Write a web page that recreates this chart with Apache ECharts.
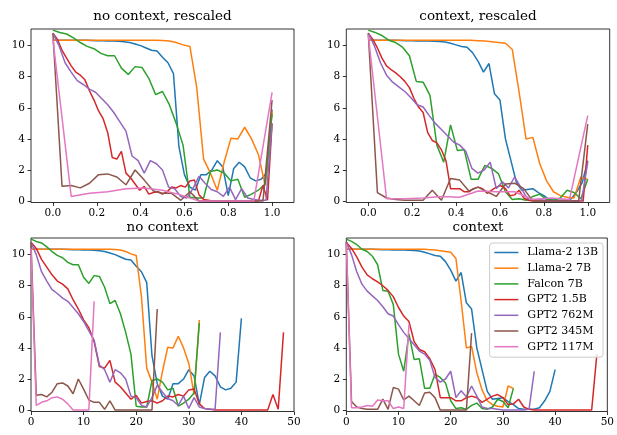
<!DOCTYPE html>
<html>
<head>
<meta charset="utf-8">
<script src="https://cdn.jsdelivr.net/npm/echarts@6/dist/echarts.min.js"></script>
<style>
html,body{margin:0;padding:0;background:#fff;}
#chart{width:617px;height:435px;}
</style>
</head>
<body>
<div id="chart"></div>
<script>
// ---- Data ----
const seriesNames = ['Llama-2 13B','Llama-2 7B','Falcon 7B','GPT2 1.5B','GPT2 762M','GPT2 345M','GPT2 117M'];
const panelTitles = ['no context, rescaled','context, rescaled','no context','context'];
const topXTicks = [0.0,0.2,0.4,0.6,0.8,1.0];
const bottomXTicks = [0,10,20,30,40,50];
const yTicks = [0,2,4,6,8,10];

// "no context" runs (index = step)
const noCtxLlama13B = [10.35,10.35,10.35,10.35,10.35,10.35,10.34,10.33,10.32,10.31,10.30,10.30,10.28,10.25,10.20,10.10,10.00,9.85,9.70,9.65,9.25,8.9,8.2,3.5,1.7,0.9,0.7,1.7,1.7,2.0,2.6,2.2,0.35,2.1,2.5,2.2,1.5,1.3,1.4,1.8,5.9];
const noCtxLlama7B = [10.35,10.35,10.35,10.35,10.35,10.35,10.35,10.35,10.35,10.35,10.35,10.35,10.35,10.35,10.35,10.34,10.33,10.3,10.2,10.05,9.95,7.3,2.7,1.8,0.7,2.5,4.05,4.0,4.75,4.0,3.0,1.0,5.8];
const noCtxFalcon7B = [11.0,10.85,10.75,10.5,10.2,9.95,9.8,9.5,9.35,9.35,8.55,8.15,8.65,8.6,7.9,6.85,7.05,6.2,5.0,3.6,0.25,0.2,0.2,1.9,2.0,1.8,1.3,1.4,0.25,0.45,0.7,1.1,5.6];
const noCtxGPT2_1_5B = [10.8,10.4,9.7,9.2,8.7,8.3,8.1,7.8,7.1,6.5,5.8,5.3,4.4,2.8,2.7,3.2,1.8,1.5,1.1,0.7,0.95,0.45,0.55,0.6,0.45,0.6,0.9,0.85,1.0,0.9,1.3,1.35,0.4,0.1,0.05,0,0,0,0,0,0,0,0,0,0,0,1.0,0.05,5.0];
const noCtxGPT2_762M = [10.8,10.0,8.9,8.3,7.75,7.5,7.2,7.0,6.6,6.2,5.7,5.1,4.5,2.9,2.6,1.8,2.6,2.4,2.0,0.9,0.8,0.3,0.2,0.8,1.6,1.15,0.75,0.6,0.3,0.9,0.1,0.8,0.2,0.1,0.05,0.05,5.0];
const noCtxGPT2_345M = [10.8,0.95,1.0,0.85,1.15,1.7,1.75,1.55,1.05,2.0,1.35,0.65,0.5,0.5,0.05,0.6,0,0,0,0,0,0,0,0,6.5];
const noCtxGPT2_117M = [10.4,0.3,0.5,0.6,0.8,0.85,0.7,0.4,0,0,0,0,7.0];

// "context" runs (index = step)
const ctxLlama13B = [10.35,10.35,10.35,10.35,10.35,10.34,10.33,10.32,10.31,10.30,10.30,10.30,10.28,10.26,10.24,10.15,10.05,9.95,9.9,9.55,9.0,8.3,8.85,6.9,6.5,4.0,2.6,1.2,0.7,0.75,0.8,0.55,0.35,0.1,0.05,0.05,0.05,0.15,0.6,1.2,2.6];
const ctxLlama7B = [10.35,10.35,10.35,10.35,10.35,10.35,10.35,10.35,10.35,10.35,10.35,10.35,10.35,10.35,10.35,10.34,10.32,10.3,10.25,10.2,10.15,9.75,7.0,4.0,4.1,2.4,1.3,0.6,0.35,0.25,0.2,1.55,1.4];
const ctxFalcon7B = [11.0,10.85,10.65,10.35,10.2,9.9,9.35,7.7,7.65,6.8,3.6,2.5,4.9,3.25,3.3,1.4,1.4,2.3,2.1,1.75,0.6,0.1,0.15,0.05,0.3,0.45,0.1,0.05,0.2,0.7,0.55,0.15,1.4];
const ctxGPT2_1_5B = [10.8,10.4,9.85,9.2,8.7,8.45,8.25,8.0,7.7,7.3,6.6,6.05,5.7,4.4,3.9,3.75,3.3,2.6,0.8,0.8,0.8,0.6,0.6,0.8,0.9,0.8,0.5,0.7,0.9,1.0,0.8,0.35,0.4,0.7,0.2,0.05,0,0,0,0,0,0,0,0,0,0,0,0,3.6];
const ctxGPT2_762M = [10.8,10.0,8.9,8.1,7.65,7.35,7.05,6.65,6.2,6.05,5.5,5.0,4.6,4.2,3.8,3.6,3.2,2.1,1.8,2.0,2.5,0.8,1.25,0.85,1.55,0.9,0.2,0.1,0.1,0.05,0,0,0,0,0,0.05,2.5];
const ctxGPT2_345M = [10.8,0.55,0.2,0.1,0.05,0.05,0.05,0.7,0.05,1.45,1.35,0.65,0.9,0.6,0.3,1.1,1.15,0.8,0,0,0,0,0,0,4.95];
const ctxGPT2_117M = [10.7,0.15,0.15,0.2,0.3,0.25,0.65,0.6,0.6,0.1,0.2,0.1,5.5];

const noCtxRuns = [noCtxLlama13B,noCtxLlama7B,noCtxFalcon7B,noCtxGPT2_1_5B,noCtxGPT2_762M,noCtxGPT2_345M,noCtxGPT2_117M];
const ctxRuns = [ctxLlama13B,ctxLlama7B,ctxFalcon7B,ctxGPT2_1_5B,ctxGPT2_762M,ctxGPT2_345M,ctxGPT2_117M];

// ---- Chart ----
const colors = ['#1f77b4','#ff7f0e','#2ca02c','#d62728','#9467bd','#8c564b','#e377c2'];
const FONT = 'DejaVu Serif';
const grids = [
  {left:31, top:29, width:263, height:173.5},
  {left:346.3, top:29, width:263.4, height:173.5},
  {left:31, top:238, width:263, height:173.5},
  {left:346.3, top:238, width:263.4, height:173.5}
];
const gridOpts = grids.map(g => Object.assign({show:true, borderColor:'#000', borderWidth:0.8, backgroundColor:'transparent'}, g));

function xAxisFor(i){
  const top = i < 2;
  return {
    type:'value', gridIndex:i,
    min: top ? -0.1 : 0, max: top ? 1.1 : 50,
    axisLine:{show:false, onZero:false},
    splitLine:{show:false},
    axisTick:{show:true, length:3.5, lineStyle:{color:'#000', width:0.8}, customValues: top ? topXTicks : bottomXTicks},
    axisLabel:{show:true, margin:5, color:'#000', fontFamily:FONT, fontSize:10.5,
      customValues: top ? topXTicks : bottomXTicks,
      formatter: v => top ? v.toFixed(1) : String(Math.round(v))}
  };
}
function yAxisFor(i){
  return {
    type:'value', gridIndex:i, min:-0.09, max:11.07,
    axisLine:{show:false, onZero:false},
    splitLine:{show:false},
    axisTick:{show:true, length:3.5, lineStyle:{color:'#000', width:0.8}, customValues:yTicks},
    axisLabel:{show:true, margin:6, color:'#000', fontFamily:FONT, fontSize:10.5, customValues:yTicks,
      formatter: v => String(Math.round(v))}
  };
}

const series = [];
for (let p = 0; p < 4; p++) {
  const runs = (p % 2 === 0) ? noCtxRuns : ctxRuns;
  const rescale = p < 2;
  runs.forEach((arr, s) => {
    const n = arr.length;
    series.push({
      type:'line', name:seriesNames[s], xAxisIndex:p, yAxisIndex:p,
      data: arr.map((v, i) => [rescale ? i / (n - 1) : i, v]),
      symbol:'none', showSymbol:false, color:colors[s],
      lineStyle:{width:1.5, color:colors[s]},
      animation:false, silent:true, clip:true
    });
  });
}

const titles = panelTitles.map((t, i) => ({
  text:t, left: grids[i].left + grids[i].width/2, top: (i < 2 ? 9.5 : 220), textAlign:'center', padding:0,
  textStyle:{fontFamily:FONT, fontSize:13.5, fontWeight:'normal', color:'#000'}
}));

const chart = echarts.init(document.getElementById('chart'), null, {renderer:'canvas'});
chart.setOption({
  animation:false,
  backgroundColor:'#fff',
  title: titles,
  grid: gridOpts,
  xAxis: [0,1,2,3].map(xAxisFor),
  yAxis: [0,1,2,3].map(yAxisFor),
  legend: {
    data: seriesNames, orient:'vertical', right:14, top:243,
    itemWidth:24, itemHeight:12, itemGap:4.7,
    padding:[4,5,5,4],
    itemStyle:{opacity:0},
    lineStyle:{width:1.5},
    backgroundColor:'rgba(255,255,255,0.8)', borderColor:'#cccccc', borderWidth:1, borderRadius:3,
    textStyle:{fontFamily:FONT, fontSize:11, color:'#000', padding:[0,0,0,4]},
    selectedMode:false
  },
  series: series
});
</script>
</body>
</html>
